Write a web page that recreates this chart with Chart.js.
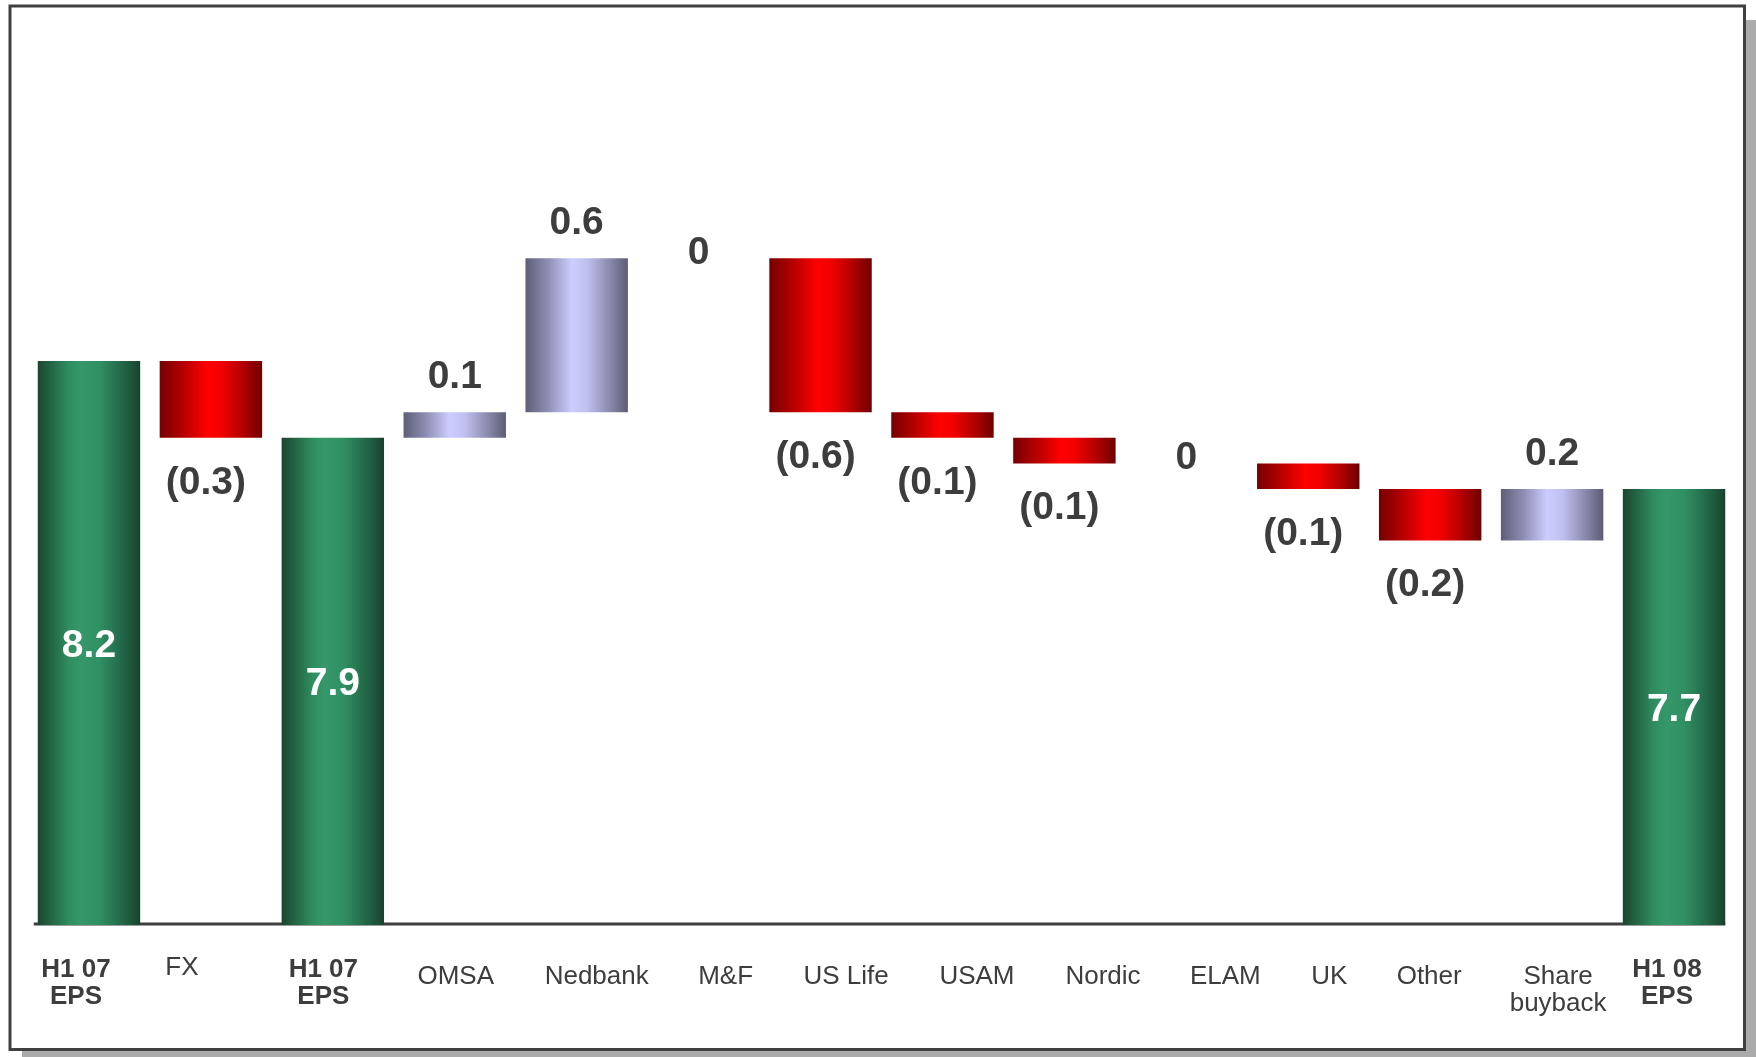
<!DOCTYPE html>
<html>
<head>
<meta charset="utf-8">
<script src="https://cdn.jsdelivr.net/npm/chart.js@4.4.1/dist/chart.umd.min.js"></script>
<style>
  html, body { margin: 0; padding: 0; background: #ffffff; overflow: hidden; }
  #wrap { width: 1756px; height: 1057px; }
</style>
</head>
<body>
<div id="wrap"><canvas id="eps" width="1756" height="1057"></canvas></div>
<script>
// EPS bridge, H1 07 -> H1 08 (cents)
const categories = [['H1 07', 'EPS'], 'FX', ['H1 07', 'EPS'], 'OMSA', 'Nedbank', 'M&F', 'US Life',
                    'USAM', 'Nordic', 'ELAM', 'UK', 'Other', ['Share', 'buyback'], ['H1 08', 'EPS']];
const isTotal = [true, false, true, false, false, false, false, false, false, false, false, false, false, true];
const values = [8.2, -0.3, 7.9, 0.1, 0.6, 0, -0.6, -0.1, -0.1, 0, -0.1, -0.2, 0.2, 7.7];
const axisFloor = 6;
const axisCeiling = 9.5;

// floating [from, to] ranges for the waterfall
const ranges = [];
let level = 0;
values.forEach((v, i) => {
  if (isTotal[i]) {
    ranges.push([0, v]);
    level = v;
  } else {
    const next = Math.round((level + v) * 10) / 10;
    ranges.push([level, next]);
    level = next;
  }
});

const fmt = v => v < 0 ? '(' + (-v).toFixed(1) + ')' : (v === 0 ? '0' : v.toFixed(1));

const FONT = "'Liberation Sans', Arial, Helvetica, sans-serif";
const TEXT = '#3d3d3d';
const BAR_PCT = 0.84;

// label placement tweaks for the category captions (px)
const tickShiftX = [-13, -29, -9.5, 1, 20, 27, 25.5, 34.5, 38.6, 39, 21, -1, 6, -7];
const tickRise   = [7, 9.5, 7, 0, 0, 0, 0, 0, 0, 0, 0, 0, 0, 7];

const palettes = {
  total: [[0, '#1a4631'], [0.3, '#2f8d5f'], [0.42, '#35986a'], [0.6, '#309063'], [0.82, '#226848'], [1, '#18422d']],
  up:    [[0, '#5e5e78'], [0.22, '#8e8eb4'], [0.45, '#ccccff'], [0.6, '#c0c0f0'], [0.82, '#8a8aae'], [1, '#5c5c74']],
  down:  [[0, '#760000'], [0.22, '#b40000'], [0.47, '#ff0000'], [0.6, '#f20000'], [0.82, '#b00000'], [1, '#6e0000']]
};

function barFill(ctx) {
  if (ctx.type !== 'data') return 'transparent';
  const i = ctx.dataIndex;
  const kind = isTotal[i] ? 'total' : (values[i] >= 0 ? 'up' : 'down');
  const chart = ctx.chart;
  const xs = chart.scales && chart.scales.x;
  if (!xs || !chart.chartArea) return palettes[kind][2][1];
  const c = xs.getPixelForValue(i);
  const w = xs.width / categories.length * BAR_PCT;
  const g = chart.ctx.createLinearGradient(c - w / 2, 0, c + w / 2, 0);
  palettes[kind].forEach(([o, col]) => g.addColorStop(o, col));
  return g;
}

const framePlugin = {
  id: 'frame',
  beforeDraw(chart) {
    const { ctx, width, height } = chart;
    ctx.save();
    ctx.fillStyle = '#ffffff';
    ctx.fillRect(0, 0, width, height);
    ctx.fillStyle = '#ababab';
    ctx.fillRect(1746, 20, 10, height - 20);
    ctx.fillRect(22, 1051, width - 22, height - 1051);
    ctx.strokeStyle = '#404040';
    ctx.lineWidth = 3;
    ctx.strokeRect(10, 6, 1734.5, 1043.5);
    ctx.restore();
  },
  // base line, running from just left of the first bar to the last bar
  beforeDatasetsDraw(chart) {
    const { ctx, chartArea } = chart;
    const meta = chart.getDatasetMeta(0);
    const first = meta.data[0], last = meta.data[meta.data.length - 1];
    ctx.save();
    ctx.strokeStyle = '#3f3f3f';
    ctx.lineWidth = 3;
    ctx.beginPath();
    ctx.moveTo(first.x - first.width / 2 - 4, chartArea.bottom - 1);
    ctx.lineTo(last.x + last.width / 2, chartArea.bottom - 1);
    ctx.stroke();
    ctx.restore();
  }
};

const labelPlugin = {
  id: 'bridgeLabels',
  afterDatasetsDraw(chart) {
    const { ctx, chartArea } = chart;
    const meta = chart.getDatasetMeta(0);
    const xs = chart.scales.x;
    ctx.save();
    ctx.textAlign = 'center';
    ctx.textBaseline = 'alphabetic';

    // value labels
    const vSize = 39;
    ctx.font = 'bold ' + vSize + 'px ' + FONT;
    meta.data.forEach((bar, i) => {
      const v = values[i];
      const top = Math.min(bar.y, bar.base);
      const bottom = Math.min(Math.max(bar.y, bar.base), chartArea.bottom);
      let cx = bar.x, cy;
      if (isTotal[i]) {
        ctx.fillStyle = '#ffffff';
        cy = (top + bottom) / 2;
      } else {
        ctx.fillStyle = TEXT;
        if (v > 0) cy = top - 38;
        else if (v < 0) { cy = bottom + 42; cx -= 5; }
        else cy = top - 8;
      }
      ctx.fillText(fmt(v), cx, cy + 0.358 * vSize);
    });

    // category captions
    const tSize = 26;
    ctx.fillStyle = TEXT;
    categories.forEach((cat, i) => {
      ctx.font = (isTotal[i] ? 'bold ' : '') + tSize + 'px ' + FONT;
      const lines = Array.isArray(cat) ? cat : [cat];
      const x = xs.getPixelForValue(i) + tickShiftX[i];
      const y0 = chartArea.bottom + 59 - tickRise[i];
      lines.forEach((ln, k) => ctx.fillText(ln, x, y0 + k * 26.5));
    });
    ctx.restore();
  }
};

new Chart(document.getElementById('eps'), {
  type: 'bar',
  data: {
    labels: categories,
    datasets: [{
      data: ranges,
      backgroundColor: barFill,
      borderWidth: 0,
      borderSkipped: false,
      barPercentage: BAR_PCT,
      categoryPercentage: 1,
      clip: 0
    }]
  },
  options: {
    responsive: false,
    animation: false,
    devicePixelRatio: 1,
    layout: { padding: { left: 28, right: 21, top: 27.6, bottom: 124 } },
    plugins: { legend: { display: false }, tooltip: { enabled: false } },
    scales: {
      x: {
        type: 'category',
        offset: true,
        grid: { display: false },
        ticks: { display: false },
        border: { display: false }
      },
      y: {
        min: axisFloor,
        max: axisCeiling,
        display: false
      }
    }
  },
  plugins: [framePlugin, labelPlugin]
});
</script>
</body>
</html>
